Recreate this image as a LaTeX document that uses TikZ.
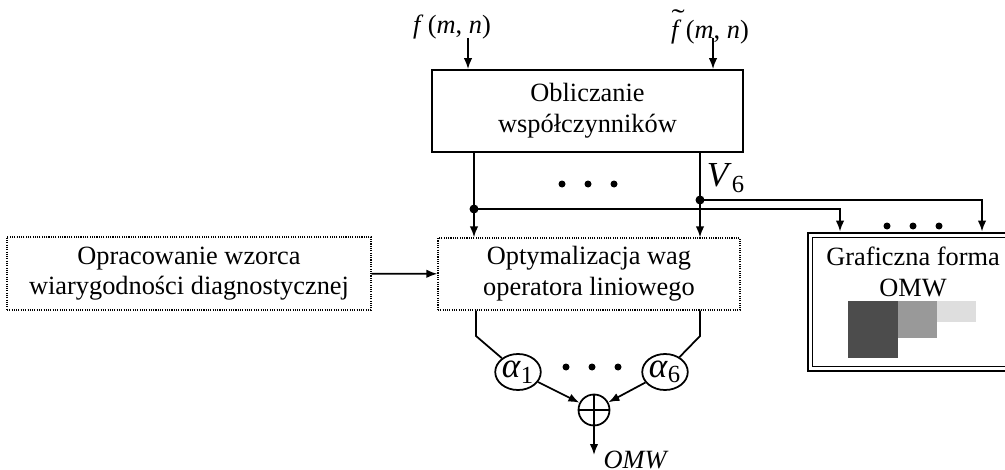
\documentclass[tikz,border=0pt]{standalone}
\usepackage{fontspec}
\setmainfont{Liberation Serif}
\usetikzlibrary{arrows.meta,shapes.geometric}

\begin{document}
\begin{tikzpicture}[x=0.2mm,y=-0.2mm,line width=1pt,>={Latex[length=2.2mm,width=1.7mm]}]
\tikzstyle{every node}=[font=\fontsize{15}{17.5}\selectfont,align=center]
\tikzstyle{blok}=[draw,rectangle,inner sep=0pt]
\tikzstyle{kropki}=[draw,rectangle,inner sep=0pt,line width=0.7pt,dash pattern=on 0.6pt off 0.7pt]
\tikzstyle{waga}=[draw,ellipse,minimum width=9mm,minimum height=7.2mm,inner sep=0pt]
\tikzstyle{sumator}=[draw,circle,minimum size=6.2mm,inner sep=0pt]
\clip (0,0) rectangle (1005,470);
% bloki
\node[blok,minimum width=62.2mm,minimum height=16.4mm](obl) at (587.5,111) {Obliczanie\\współczynników};
\node[kropki,minimum width=60.4mm,minimum height=14.4mm](opt) at (589,274) {Optymalizacja wag\\operatora liniowego};
\node[kropki,minimum width=72.8mm,minimum height=14.6mm](wz) at (189,273.5) {Opracowanie wzorca\\wiarygodności diagnostycznej};
\node[blok,line width=1.6pt,minimum width=42.4mm,minimum height=27.6mm](graf) at (914,302) {};
\draw[line width=0.8pt] ([shift={(6,6)}]graf.north west) rectangle ([shift={(-6,-6)}]graf.south east);
\node(graft) at (913,272) {Graficzna forma\\OMW};
\fill[black!70] (848,301) rectangle (898,358);
\fill[black!40] (898,301) rectangle (937,338);
\fill[black!13] (937,301) rectangle (976,322);
% wejscia
\node(f1) at (452,27) {\textit{f}\,(\textit{m}, \textit{n})};
\node(f2) at (710,27) {\rlap{\hspace{0.02em}\raisebox{0.42em}{\scalebox{1.5}[1]{\char"02DC}}}\textit{f}\,(\textit{m}, \textit{n})};
\coordinate (we1) at (468,38);
\coordinate (we2) at (713,38);
\draw[->] (we1) -- (we1 |- obl.north);
\draw[->] (we2) -- (we2 |- obl.north);
% wspolczynniki V
\coordinate (v1) at (474,209);
\coordinate (v6) at (700,200);
\coordinate (g1) at (840,209);
\coordinate (g6) at (982,200);
\draw[->] (v1 |- obl.south) -- (v1 |- opt.north);
\draw[->] (v6 |- obl.south) -- (v6 |- opt.north);
\draw[->] (v1) -- (g1) -- (g1 |- graf.north);
\draw[->] (v6) -- (g6) -- (g6 |- graf.north);
\fill (v1) circle (0.9mm);
\fill (v6) circle (0.9mm);
\node(vl) at (726,178) {\fontsize{20}{20}\selectfont\textit{V}\textsubscript{6}};
\foreach \x in {562,588,614} \fill (\x,184) circle (0.7mm);
\foreach \x in {887,913,939} \fill (\x,226) circle (0.7mm);
\draw[->] (wz) -- (opt);
% wagi i sumator
\node[waga](a1) at (518,372) {\fontsize{20}{20}\selectfont\textit{α}\textsubscript{1}};
\node[waga](a6) at (665,372) {\fontsize{20}{20}\selectfont\textit{α}\textsubscript{6}};
\foreach \x in {566,592,618} \fill (\x,367) circle (0.7mm);
\node[sumator](sum) at (594,410) {};
\draw (sum.north) -- (sum.south);
\draw (sum.west) -- (sum.east);
\coordinate (k1) at (476,336);
\coordinate (k6) at (700,336);
\draw (k1 |- opt.south) -- (k1) -- (a1);
\draw (k6 |- opt.south) -- (k6) -- (a6);
\draw[->] (a1) -- (sum);
\draw[->] (a6) -- (sum);
\coordinate (wy) at (594,455);
\draw[->] (sum) -- (wy);
\node(omw) at (636,460) {\textit{OMW}};
\end{tikzpicture}
\end{document}
